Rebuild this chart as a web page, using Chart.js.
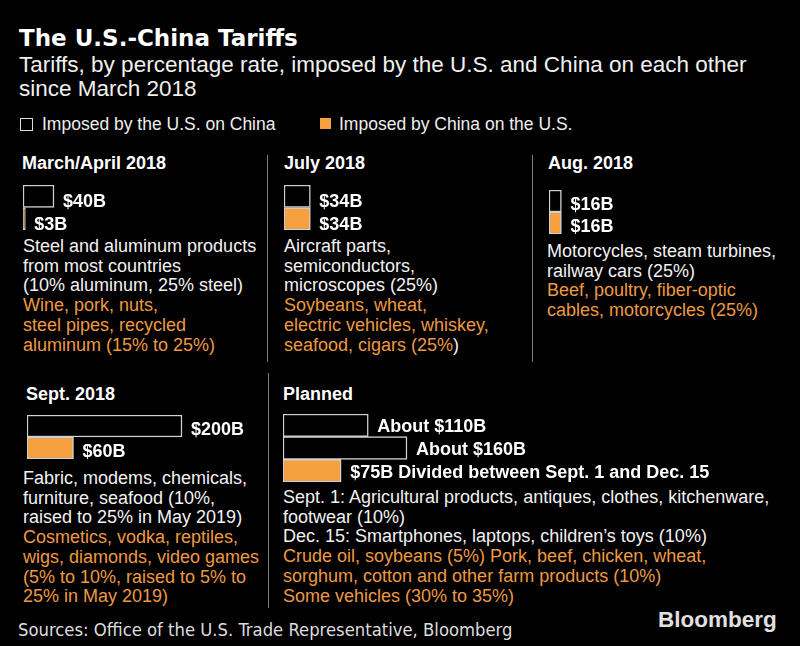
<!DOCTYPE html>
<html>
<head>
<meta charset="utf-8">
<script src="https://cdn.jsdelivr.net/npm/chart.js@4.4.1/dist/chart.umd.min.js"></script>
<style>
  html, body { margin:0; padding:0; background:#000; }
  body { width:800px; height:646px; position:relative; overflow:hidden; font-family:"Liberation Sans", Arial, sans-serif; color:#f2f2f2; }
  .abs { position:absolute; white-space:nowrap; }
  .title { left:19px; top:24px; font:bold 23px/28px "DejaVu Sans", sans-serif; color:#fff; }
  .sub { left:19px; top:53px; font:22.5px/24px "Liberation Sans", sans-serif; color:#f0f0f0; }
  .leg { top:114px; font:17.5px/20px "Liberation Sans", sans-serif; color:#eee; }
  .sq { position:absolute; box-sizing:border-box; }
  .head { font:bold 18px/20px "Liberation Sans", sans-serif; color:#fff; }
  .body { font:18px/19.7px "Liberation Sans", sans-serif; color:#f2f2f2; }
  .or { color:#ec9a42; }
  .wh { color:#f2f2f2; }
  .div { position:absolute; width:1px; background:#7a7a7a; }
  .foot { left:18px; top:619px; font:18.3px/22px "DejaVu Sans Condensed", "DejaVu Sans", sans-serif; color:#ddd; }
  .logo { left:658px; top:607px; font:bold 22.5px/26px "Liberation Sans", sans-serif; color:#e0e0e0; }
  canvas { position:absolute; }
</style>
</head>
<body>
<div class="abs title">The U.S.-China Tariffs</div>
<div class="abs sub">Tariffs, by percentage rate, imposed by the U.S. and China on each other<br>since March 2018</div>

<div class="sq" style="left:20px;top:118px;width:13px;height:13px;border:1.5px solid #ddd;"></div>
<div class="abs leg" style="left:42px;">Imposed by the U.S. on China</div>
<div class="sq" style="left:320px;top:118px;width:11px;height:11px;background:#f7a040;"></div>
<div class="abs leg" style="left:339px;">Imposed by China on the U.S.</div>

<div class="div" style="left:267px;top:155px;height:207px;"></div>
<div class="div" style="left:532px;top:155px;height:207px;"></div>
<div class="div" style="left:268px;top:373px;height:235px;"></div>

<div class="abs head" style="left:22px;top:153px;">March/April 2018</div>
<div class="abs head" style="left:284px;top:153px;">July 2018</div>
<div class="abs head" style="left:548px;top:153px;">Aug. 2018</div>
<div class="abs head" style="left:26px;top:384px;">Sept. 2018</div>
<div class="abs head" style="left:283px;top:384px;">Planned</div>

<canvas id="cMarch" width="240" height="45" style="left:23px;top:185px;width:240px;height:45px;"></canvas>
<canvas id="cJuly" width="240" height="45" style="left:284px;top:185px;width:240px;height:45px;"></canvas>
<canvas id="cAug" width="225" height="44" style="left:549px;top:190px;width:225px;height:44px;"></canvas>
<canvas id="cSept" width="240" height="44" style="left:27px;top:415px;width:240px;height:44px;"></canvas>
<canvas id="cPlanned" width="500" height="68" style="left:283px;top:414px;width:500px;height:68px;"></canvas>

<div class="abs body" style="left:23px;top:237px;">Steel and aluminum products<br>from most countries<br>(10% aluminum, 25% steel)<br><span class="or">Wine, pork, nuts,<br>steel pipes, recycled<br>aluminum (15% to 25%)</span></div>
<div class="abs body" style="left:284px;top:237px;">Aircraft parts,<br>semiconductors,<br>microscopes (25%)<br><span class="or">Soybeans, wheat,<br>electric vehicles, whiskey,<br>seafood, cigars (25%</span><span class="wh">)</span></div>
<div class="abs body" style="left:547px;top:242px;">Motorcycles, steam turbines,<br>railway cars (25%)<br><span class="or">Beef, poultry, fiber-optic<br>cables, motorcycles (25%)</span></div>
<div class="abs body" style="left:23px;top:469px;">Fabric, modems, chemicals,<br>furniture, seafood (10%,<br>raised to 25% in May 2019)<br><span class="or">Cosmetics, vodka, reptiles,<br>wigs, diamonds, video games<br>(5% to 10%, raised to 5% to<br>25% in May 2019)</span></div>
<div class="abs body" style="left:283px;top:488px;">Sept. 1: Agricultural products, antiques, clothes, kitchenware,<br>footwear (10%)<br>Dec. 15: Smartphones, laptops, children’s toys (10%)<br><span class="or">Crude oil, soybeans (5%) Pork, beef, chicken, wheat,<br>sorghum, cotton and other farm products (10%)<br>Some vehicles (30% to 35%)</span></div>

<div class="abs foot">Sources: Office of the U.S. Trade Representative, Bloomberg</div>
<div class="abs logo">Bloomberg</div>

<script>
// ---- data (billions of US dollars of goods covered) ----
const marchRows = ['U.S. on China', 'China on U.S.'];
const marchValues = [40, 3];
const marchLabels = ['$40B', '$3B'];

const julyRows = ['U.S. on China', 'China on U.S.'];
const julyValues = [34, 34];
const julyLabels = ['$34B', '$34B'];

const augRows = ['U.S. on China', 'China on U.S.'];
const augValues = [16, 16];
const augLabels = ['$16B', '$16B'];

const septRows = ['U.S. on China', 'China on U.S.'];
const septValues = [200, 60];
const septLabels = ['$200B', '$60B'];

const plannedRows = ['U.S. on China (Sept. 1)', 'U.S. on China (Dec. 15)', 'China on U.S.'];
const plannedValues = [110, 160, 75];
const plannedLabels = ['About $110B', 'About $160B', '$75B Divided between Sept. 1 and Dec. 15'];

// ---- styling ----
const PX_PER_B = 0.775;
const US_FILL = '#000000';
const CN_FILL = '#f7a040';
const OUTLINE = '#d0d0d0';

const valueLabelPlugin = {
  id: 'valueLabels',
  afterDatasetsDraw(chart, args, opts) {
    const ctx = chart.ctx;
    const meta = chart.getDatasetMeta(0);
    ctx.save();
    ctx.fillStyle = '#ffffff';
    ctx.font = 'bold 18px "Liberation Sans", Arial, sans-serif';
    ctx.textBaseline = 'alphabetic';
    ctx.textAlign = 'left';
    meta.data.forEach((bar, i) => {
      ctx.fillText(opts.labels[i], bar.x + 9, bar.y + opts.dy + 6.4);
    });
    ctx.restore();
  }
};

function makeBars(id, rows, values, labels, fills, dy) {
  const canvas = document.getElementById(id);
  new Chart(canvas, {
    type: 'bar',
    data: {
      labels: rows,
      datasets: [{
        data: values,
        backgroundColor: fills,
        borderColor: OUTLINE,
        borderWidth: 1.5,
        borderSkipped: false,
        categoryPercentage: 1,
        barPercentage: 1
      }]
    },
    options: {
      indexAxis: 'y',
      responsive: false,
      maintainAspectRatio: false,
      animation: false,
      devicePixelRatio: 1,
      layout: { padding: 0 },
      plugins: {
        legend: { display: false },
        tooltip: { enabled: false },
        valueLabels: { labels: labels, dy: dy }
      },
      scales: {
        x: { display: false, min: 0, max: canvas.width / PX_PER_B },
        y: { display: false }
      }
    },
    plugins: [valueLabelPlugin]
  });
}

makeBars('cMarch', marchRows, marchValues, marchLabels, [US_FILL, CN_FILL], 4.5);
makeBars('cJuly', julyRows, julyValues, julyLabels, [US_FILL, CN_FILL], 4.5);
makeBars('cAug', augRows, augValues, augLabels, [US_FILL, CN_FILL], 3);
makeBars('cSept', septRows, septValues, septLabels, [US_FILL, CN_FILL], 2.5);
makeBars('cPlanned', plannedRows, plannedValues, plannedLabels, [US_FILL, US_FILL, CN_FILL], 0.7);
</script>
</body>
</html>
